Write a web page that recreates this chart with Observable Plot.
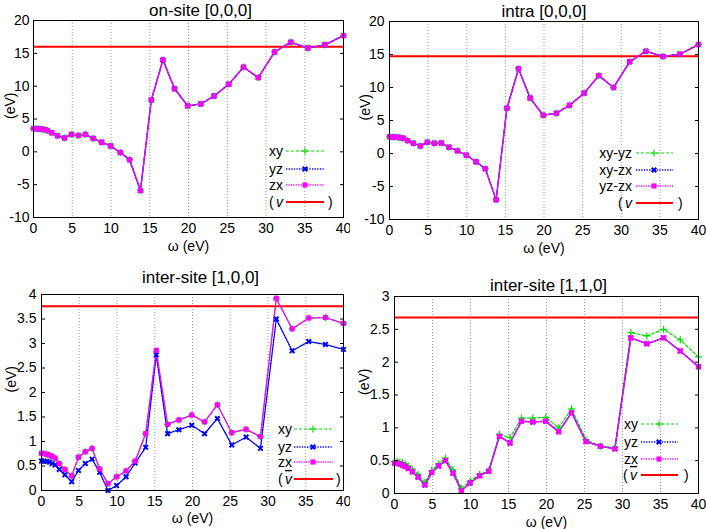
<!DOCTYPE html>
<html><head><meta charset="utf-8">
<script src="https://cdn.jsdelivr.net/npm/d3@7"></script>
<script src="https://cdn.jsdelivr.net/npm/@observablehq/plot@0.6"></script>
<style>
body{margin:0;background:#fff;}
#root{position:relative;width:706px;height:529px;font-family:"Liberation Sans",Arial,sans-serif;}
.panel{position:absolute;}
#legend{position:absolute;left:0;top:0;}
</style></head><body><div id="root"></div>
<script>
// frequency grid (eV)
const omega = [0, 0.35, 0.7, 1.05, 1.4, 1.8, 2.35, 3.1, 4.0, 4.9, 5.8, 6.7, 7.7, 8.8, 9.95, 11.2, 12.4, 13.8, 15.2, 16.7, 18.2, 19.9, 21.6, 23.3, 25.2, 27.1, 29.0, 31.1, 33.2, 35.4, 37.6, 40.0];

// on-site [0,0,0] : xy, yz, zx coincide
const onsite = [3.55, 3.5, 3.5, 3.45, 3.4, 3.25, 2.9, 2.45, 2.1, 2.65, 2.5, 2.65, 2.05, 1.45, 0.9, -0.1, -1.2, -5.9, 7.9, 14.0, 9.6, 7.0, 7.3, 8.5, 10.3, 12.9, 11.3, 15.2, 16.7, 15.8, 16.3, 17.7];
const onsiteV = 16.0;

// intra [0,0,0] : xy-yz, xy-zx, yz-zx coincide
const intra = [2.55, 2.5, 2.5, 2.45, 2.4, 2.3, 1.95, 1.55, 1.15, 1.7, 1.55, 1.6, 0.95, 0.4, -0.25, -1.25, -2.3, -7.0, 6.85, 12.85, 8.4, 5.8, 6.1, 7.3, 9.15, 11.8, 10.0, 13.9, 15.5, 14.7, 15.05, 16.5];
const intraV = 14.75;

// inter-site [1,0,0]
const inter100XY = [0.76, 0.75, 0.74, 0.72, 0.70, 0.66, 0.55, 0.43, 0.30, 0.68, 0.79, 0.86, 0.44, 0.14, 0.28, 0.40, 0.60, 1.16, 2.83, 1.35, 1.44, 1.54, 1.40, 1.75, 1.18, 1.25, 1.10, 3.92, 3.30, 3.52, 3.53, 3.41];
const inter100YZ = [0.60, 0.60, 0.59, 0.58, 0.55, 0.52, 0.43, 0.32, 0.18, 0.41, 0.55, 0.64, 0.37, 0.0, 0.10, 0.28, 0.56, 0.88, 2.77, 1.16, 1.24, 1.33, 1.16, 1.47, 0.93, 1.09, 0.86, 3.50, 2.85, 3.04, 2.98, 2.88];
const inter100ZX = [0.76, 0.75, 0.74, 0.72, 0.70, 0.66, 0.55, 0.43, 0.30, 0.68, 0.79, 0.86, 0.44, 0.14, 0.28, 0.40, 0.60, 1.16, 2.86, 1.35, 1.44, 1.54, 1.40, 1.75, 1.18, 1.25, 1.10, 3.92, 3.30, 3.52, 3.53, 3.41];
const inter100V = 3.76;

// inter-site [1,1,0]
const inter110XY = [0.49, 0.49, 0.48, 0.47, 0.45, 0.42, 0.37, 0.29, 0.17, 0.35, 0.45, 0.54, 0.36, 0.08, 0.19, 0.29, 0.35, 0.90, 0.85, 1.15, 1.15, 1.16, 1.00, 1.29, 0.82, 0.72, 0.70, 2.45, 2.40, 2.50, 2.34, 2.08];
const inter110YZ = [0.46, 0.46, 0.45, 0.43, 0.41, 0.38, 0.33, 0.25, 0.13, 0.32, 0.42, 0.50, 0.31, 0.04, 0.16, 0.27, 0.34, 0.87, 0.77, 1.10, 1.09, 1.10, 0.94, 1.23, 0.79, 0.72, 0.68, 2.37, 2.28, 2.37, 2.17, 1.93];
const inter110ZX = [0.46, 0.46, 0.45, 0.43, 0.41, 0.38, 0.33, 0.25, 0.13, 0.32, 0.42, 0.50, 0.31, 0.04, 0.16, 0.27, 0.34, 0.87, 0.77, 1.10, 1.09, 1.10, 0.94, 1.23, 0.79, 0.72, 0.68, 2.37, 2.28, 2.37, 2.17, 1.93];
const inter110V = 2.68;

const xTicks = [0, 5, 10, 15, 20, 25, 30, 35, 40];
const gridTicks = [5, 10, 15, 20, 25, 30, 35];
const yTicksBig = [-10, -5, 0, 5, 10, 15, 20];
const yTicks100 = [0, 0.5, 1, 1.5, 2, 2.5, 3, 3.5, 4];
const yTicks110 = [0, 0.5, 1, 1.5, 2, 2.5, 3];

const styles = [
  {stroke: "#00dd00", dash: "3,2", width: 1.2, symbol: "plus", r: 2.4, sw: 1.2, fill: "none"},
  {stroke: "#0000ff", dash: "1.3,1.3", width: 1.4, symbol: "times", r: 2.2, sw: 2, fill: "none"},
  {stroke: "#ff00ff", dash: "1.2,1.2", width: 1.4, symbol: "square", r: 2.9, sw: 0, fill: "#ff00ff"}
];

const panels = [
  {title: "on-site [0,0,0]", titleDx: 12, titleDy: -10, left: 0, top: 0, width: 350, height: 262,
   m: {top: 20, right: 7, bottom: 45, left: 33}, y: [-10, 20], yTicks: yTicksBig,
   series: [onsite, onsite, onsite], v: onsiteV, names: ["xy", "yz", "zx"], bar: false,
   ylabDx: -23, xlabDy: 29, tickPad: 4,
   lg: {right: 283, x1: 286, x2: 324, mx: 305, rows: [151, 169, 185, 202], p1: 269, vx: 276, p2: 328}},
  {title: "intra [0,0,0]", titleDx: 0, titleDy: -10, left: 350, top: 0, width: 356, height: 262,
   m: {top: 21, right: 8, bottom: 43, left: 39}, y: [-10, 20], yTicks: yTicksBig,
   series: [intra, intra, intra], v: intraV, names: ["xy-yz", "xy-zx", "yz-zx"], bar: false,
   ylabDx: -24, xlabDy: 29, tickPad: 5,
   lg: {right: 632, x1: 636, x2: 673, mx: 654, rows: [153, 170, 186, 203], p1: 618, vx: 625, p2: 678}},
  {title: "inter-site [1,0,0]", titleDx: 8, titleDy: -17, left: 0, top: 262, width: 350, height: 267,
   m: {top: 32, right: 7, bottom: 39, left: 41}, y: [0, 4], yTicks: yTicks100,
   series: [inter100XY, inter100YZ, inter100ZX], v: inter100V, names: ["xy", "yz", "zx"], bar: true,
   ylabDx: -30, xlabDy: 28, tickPad: 5,
   lg: {right: 292, x1: 294, x2: 333, mx: 313, rows: [429, 447, 462, 479], p1: 278, vx: 285, p2: 336}},
  {title: "inter-site [1,1,0]", titleDx: 2, titleDy: -11, left: 350, top: 262, width: 356, height: 267,
   m: {top: 34, right: 8, bottom: 36, left: 44}, y: [0, 3], yTicks: yTicks110,
   series: [inter110XY, inter110YZ, inter110ZX], v: inter110V, names: ["xy", "yz", "zx"], bar: true,
   ylabDx: -30, xlabDy: 29, tickPad: 5,
   lg: {right: 638, x1: 641, x2: 678, mx: 659, rows: [424, 442, 459, 475], p1: 623, vx: 630, p2: 684}}
];

const root = document.getElementById("root");
const font = '"Liberation Sans", Arial, sans-serif';

for (const p of panels) {
  const rows = omega.map((w, i) => ({w, a: p.series[0][i], b: p.series[1][i], c: p.series[2][i]}));
  const keys = ["a", "b", "c"];
  const marks = [
    Plot.gridX(gridTicks, {stroke: "#999", strokeOpacity: 1, strokeDasharray: "1,2"}),
    Plot.ruleY([p.v], {stroke: "#ff0000", strokeWidth: 2})
  ];
  keys.forEach((k, j) => {
    const s = styles[j];
    marks.push(Plot.line(rows, {x: "w", y: k, stroke: s.stroke, strokeWidth: s.width, strokeDasharray: s.dash}));
  });
  keys.forEach((k, j) => {
    const s = styles[j];
    marks.push(Plot.dot(rows, {x: "w", y: k, symbol: s.symbol, r: s.r, stroke: s.sw ? s.stroke : "none", strokeWidth: s.sw, fill: s.fill}));
  });
  marks.push(
    Plot.frame({stroke: "#000", strokeWidth: 1}),
    Plot.axisX({ticks: xTicks, tickSize: 0, tickPadding: 6, tickFormat: d => String(d), label: null, fontSize: 14}),
    Plot.axisY({ticks: p.yTicks, tickSize: 0, tickPadding: p.tickPad, tickFormat: d => String(d), label: null, fontSize: 14}),
    Plot.axisY({anchor: "left", ticks: p.yTicks, tickSize: -4, tickFormat: () => "", label: null}),
    Plot.axisY({anchor: "right", ticks: p.yTicks, tickSize: -4, tickFormat: () => "", label: null}),
    Plot.text([p.title], {text: d => d, frameAnchor: "top", dx: p.titleDx, dy: p.titleDy, lineAnchor: "middle", fontSize: 17, fontWeight: "normal", fill: "#000"}),
    Plot.text(["(eV)"], {text: d => d, frameAnchor: "left", dx: p.ylabDx, rotate: -90, lineAnchor: "middle", fontSize: 14, fontWeight: "normal", fill: "#000"}),
    Plot.text(["ω (eV)"], {text: d => d, frameAnchor: "bottom", dy: p.xlabDy, lineAnchor: "middle", fontSize: 14, fontWeight: "normal", fill: "#000"})
  );
  const chart = Plot.plot({
    width: p.width, height: p.height,
    marginTop: p.m.top, marginRight: p.m.right, marginBottom: p.m.bottom, marginLeft: p.m.left,
    style: {fontFamily: font, fontSize: "14px", color: "#000", background: "transparent"},
    x: {domain: [0, 40]},
    y: {domain: p.y},
    marks
  });
  const wrap = document.createElement("div");
  wrap.className = "panel";
  wrap.style.left = p.left + "px";
  wrap.style.top = p.top + "px";
  wrap.appendChild(chart);
  root.appendChild(wrap);
}

// legends (overlay)
const svg = d3.select(root).append("svg").attr("id", "legend").attr("width", 706).attr("height", 529)
  .style("font-family", font).style("font-size", "14px");
const symMap = {plus: d3.symbolPlus, times: d3.symbolTimes, square: d3.symbolSquare};
for (const p of panels) {
  const L = p.lg;
  p.names.forEach((name, j) => {
    const s = styles[j];
    const y = L.rows[j];
    svg.append("text").attr("x", L.right).attr("y", y).attr("dy", "0.35em").attr("text-anchor", "end").text(name);
    svg.append("line").attr("x1", L.x1).attr("x2", L.x2).attr("y1", y).attr("y2", y)
      .attr("stroke", s.stroke).attr("stroke-width", s.width).attr("stroke-dasharray", s.dash);
    svg.append("path").attr("transform", `translate(${L.mx},${y})`)
      .attr("d", d3.symbol(symMap[s.symbol], Math.PI * s.r * s.r)())
      .attr("fill", s.fill).attr("stroke", s.sw ? s.stroke : "none").attr("stroke-width", s.sw);
  });
  const y = L.rows[3];
  svg.append("text").attr("x", L.p1).attr("y", y).attr("dy", "0.35em").text("(");
  svg.append("text").attr("x", L.vx).attr("y", y).attr("dy", "0.35em").attr("font-style", "italic")
    .style("text-decoration", p.bar ? "overline" : "none").text("v");
  svg.append("line").attr("x1", L.x1).attr("x2", L.x2).attr("y1", y).attr("y2", y)
    .attr("stroke", "#ff0000").attr("stroke-width", 2);
  svg.append("text").attr("x", L.p2).attr("y", y).attr("dy", "0.35em").text(")");
}
</script>
</body></html>
